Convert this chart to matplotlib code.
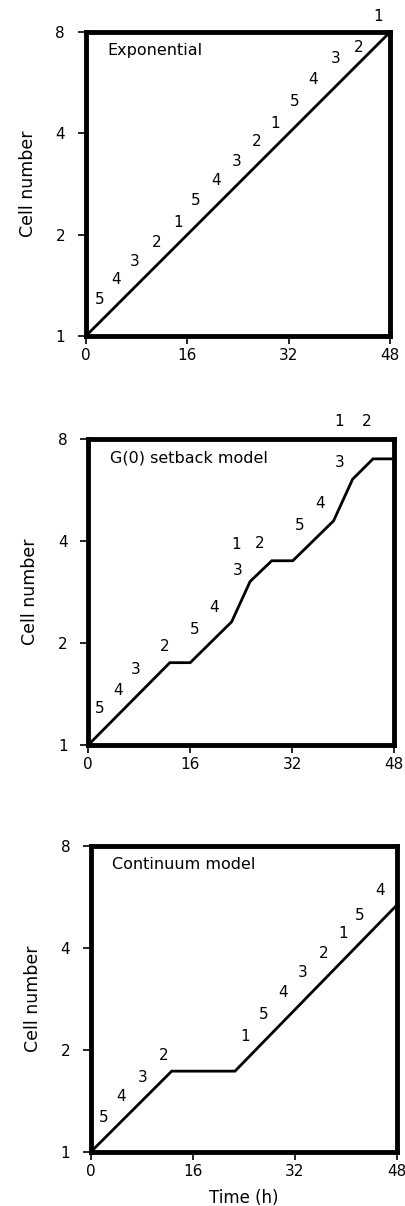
import matplotlib
matplotlib.use("Agg")
import matplotlib.pyplot as plt

plt.rcParams['font.family'] = ['DejaVu Sans']

# shared axes
x_ticks = [0, 16, 32, 48]
y_ticks = [1, 2, 4, 8]
y_label = 'Cell number'
x_label = 'Time (h)'

# panel 1 - exponential
exp_title = 'Exponential'
exp_t = [0, 48]
exp_n = [1, 8]
exp_lab = ['5', '4', '3', '2', '1', '5', '4', '3', '2', '1', '5', '4', '3', '2', '1']
exp_lab_t = [2.2, 4.7, 7.7, 11.2, 14.5, 17.4, 20.5, 23.8, 27.0, 29.8, 33.0, 35.8, 39.5, 43.1, 46.2]
exp_lab_n = [1.28, 1.47, 1.66, 1.90, 2.17, 2.52, 2.89, 3.29, 3.78, 4.29, 4.99, 5.78, 6.68, 7.21, 8.9]

# panel 2 - G(0) setback model
g0_title = 'G(0) setback model'
g0_t = [0, 12.8, 16.0, 22.5, 25.4, 28.8, 32.1, 38.5, 41.5, 44.7, 48]
g0_n = [1, 1.75, 1.75, 2.31, 3.04, 3.50, 3.50, 4.59, 6.1, 7.0, 7.0]
g0_lab = ['5', '4', '3', '2', '5', '4', '3', '1', '2', '5', '4', '3', '1', '2']
g0_lab_t = [1.75, 4.7, 7.5, 12.0, 16.75, 19.8, 23.4, 23.2, 26.85, 33.2, 36.4, 39.4, 39.4, 43.7]
g0_lab_n = [1.28, 1.45, 1.67, 1.95, 2.19, 2.54, 3.27, 3.92, 3.94, 4.45, 5.15, 6.82, 9.0, 9.0]

# panel 3 - continuum model
con_title = 'Continuum model'
con_t = [0, 12.67, 22.6, 48]
con_n = [1, 1.73, 1.73, 5.35]
con_lab = ['5', '4', '3', '2', '1', '5', '4', '3', '2', '1', '5', '4']
con_lab_t = [1.93, 4.66, 8.1, 11.35, 24.2, 27.05, 30.1, 33.3, 36.5, 39.6, 42.1, 45.4]
con_lab_n = [1.26, 1.46, 1.66, 1.93, 2.19, 2.55, 2.95, 3.38, 3.84, 4.42, 5.0, 5.9]

fig = plt.figure(figsize=(4.05, 12.06), dpi=100)

panels = [
    ([0.212, 0.7214, 0.751, 0.252], exp_title, exp_t, exp_n, exp_lab, exp_lab_t, exp_lab_n, False),
    ([0.218, 0.3823, 0.755, 0.2535], g0_title, g0_t, g0_n, g0_lab, g0_lab_t, g0_lab_n, False),
    ([0.2247, 0.045, 0.755, 0.2535], con_title, con_t, con_n, con_lab, con_lab_t, con_lab_n, True),
]

for rect, title, t, n, lab, lab_t, lab_n, show_xlabel in panels:
    ax = fig.add_axes(rect)
    ax.set_yscale('log', base=2)
    ax.plot(t, n, color='black', lw=2.0, clip_on=False, solid_joinstyle='miter')
    for s, xt, yn in zip(lab, lab_t, lab_n):
        ax.text(xt, yn, s, fontsize=11, ha='center', va='center')
    ax.text(0.07, 0.94, title, transform=ax.transAxes, fontsize=11.5,
            ha='left', va='center')
    ax.set_xlim(0, 48)
    ax.set_ylim(1, 8)
    ax.set_xticks(x_ticks)
    ax.set_xticklabels([str(v) for v in x_ticks])
    ax.set_yticks(y_ticks)
    ax.set_yticklabels([str(v) for v in y_ticks])
    ax.minorticks_off()
    for sp in ax.spines.values():
        sp.set_linewidth(3.5)
    ax.tick_params(direction='out', length=6, width=1.2, labelsize=11)
    ax.tick_params(axis='x', pad=2.5)
    ax.tick_params(axis='y', pad=9)
    ax.set_ylabel(y_label, fontsize=12.5, va='center')
    ax.yaxis.set_label_coords(-0.19, 0.5)
    if show_xlabel:
        ax.set_xlabel(x_label, fontsize=12, va='center')
        ax.xaxis.set_label_coords(0.5, -0.15)

fig.savefig('out.png', dpi=100)
